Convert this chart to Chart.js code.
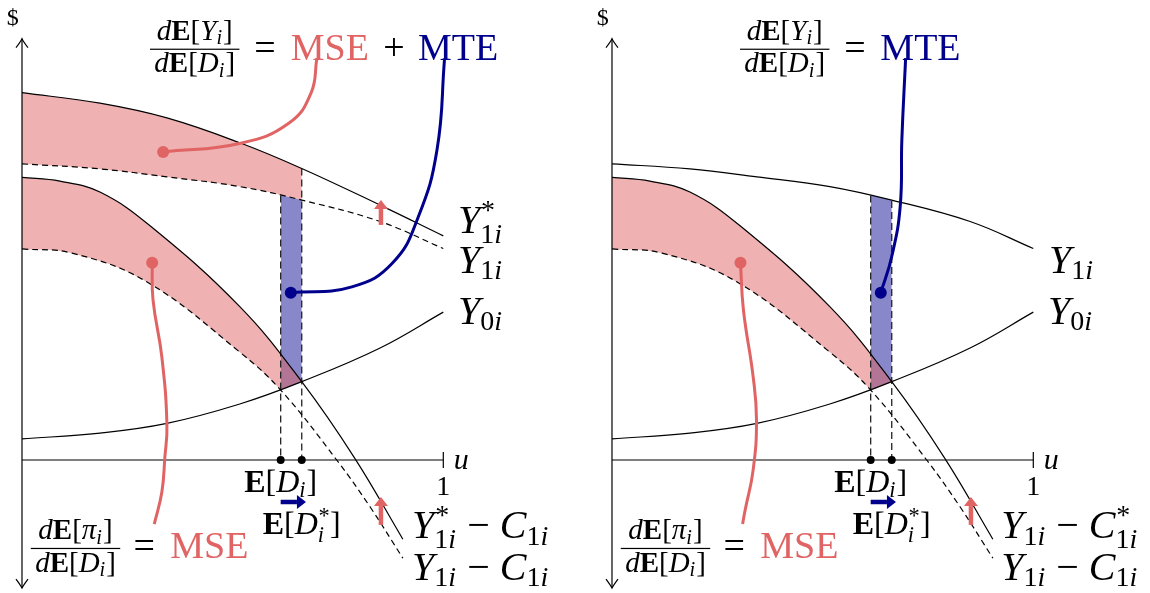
<!DOCTYPE html>
<html>
<head>
<meta charset="utf-8">
<script src="https://cdn.jsdelivr.net/npm/chart.js@4.4.1/dist/chart.umd.min.js"></script>
<style>
  html, body { margin: 0; padding: 0; background: #fff; }
  #wrap { position: relative; width: 1150px; height: 593px; overflow: hidden; }
  .panel { position: absolute; top: 0; height: 593px; }
</style>
</head>
<body>
<div id="wrap">
  <div class="panel" style="left:0;width:575px"><canvas id="left"></canvas></div>
  <div class="panel" style="left:590px;width:560px"><canvas id="right"></canvas></div>
</div>
<script>
// ---- values (u on the x axis, $ on the y axis) ----
const uGrid = [0, 0.185, 0.344, 0.517, 0.664, 0.85, 1.0];
const y1Star = [0.872, 0.847, 0.812, 0.753, 0.692, 0.605, 0.532];
const y1 = [0.703, 0.691, 0.672, 0.649, 0.617, 0.566, 0.502];
const y0 = [0.050, 0.064, 0.087, 0.133, 0.186, 0.266, 0.351];

const netStarU = [0, 0.09, 0.185, 0.304, 0.517, 0.664, 0.790, 0.904];
const netStar = [0.671, 0.662, 0.636, 0.556, 0.364, 0.186, 0.004, -0.188];
const netU = [0, 0.119, 0.296, 0.517, 0.614, 0.747, 0.826, 0.904];
const net = [0.501, 0.491, 0.423, 0.256, 0.166, 0.0, -0.111, -0.233];

const eD = 0.614;
const eDStar = 0.664;
const dropTopsLeft = [0.628, 0.692];
const dropTopsRight = [0.628, 0.615];

// callout curves (start point carries the dot)
const mseTopU = [0.335, 0.519, 0.634, 0.686, 0.700];
const mseTopV = [0.731, 0.752, 0.800, 0.871, 0.954];
const mteLeftU = [0.638, 0.783, 0.880, 0.941, 0.985, 1.003];
const mteLeftV = [0.397, 0.411, 0.468, 0.578, 0.736, 0.953];
const mseLowLeftU = [0.309, 0.311, 0.332, 0.344, 0.339, 0.332, 0.314];
const mseLowLeftV = [0.468, 0.380, 0.244, 0.084, 0.005, -0.076, -0.152];
const mteRightU = [0.638, 0.664, 0.684, 0.688, 0.697];
const mteRightV = [0.397, 0.483, 0.601, 0.760, 0.954];
const mseLowRightU = [0.305, 0.312, 0.335, 0.343, 0.335, 0.316, 0.310];
const mseLowRightV = [0.468, 0.356, 0.198, 0.095, -0.024, -0.119, -0.152];

const RED = '#e06464';
const NAVY = '#00008c';
const PINK = 'rgba(224, 100, 100, 0.5)';
const BLUE_FILL = 'rgba(0, 0, 140, 0.47)';
const FONT = "'Liberation Serif', 'DejaVu Serif', serif";

const X_MIN = -0.0522, Y_MIN = -0.3157, Y_MAX = 1.0919;

function series(us, vs) {
  return us.map((u, i) => ({ x: u, y: vs[i] }));
}

function curve(key, us, vs, extra) {
  return Object.assign({
    key, data: series(us, vs), showLine: true, borderColor: '#000', borderWidth: 1.2,
    pointRadius: 0, tension: 0.4, fill: false
  }, extra);
}

function callout(key, us, vs, color) {
  return {
    key, data: series(us, vs), showLine: true, borderColor: color, borderWidth: 3,
    tension: 0.45, pointRadius: us.map((_, i) => (i === 0 ? 6 : 0)),
    pointBackgroundColor: color, pointBorderWidth: 0, fill: false
  };
}

function segment(key, pts, extra) {
  return Object.assign({
    key, data: pts.map(p => ({ x: p[0], y: p[1] })), showLine: true, borderColor: '#000',
    borderWidth: 1.2, pointRadius: 0, tension: 0, fill: false
  }, extra);
}

// ---- math-ish text ----
function fontFor(f, size) {
  return (f === 'i' ? 'italic ' : '') + (f === 'b' ? 'bold ' : '') + size + 'px ' + FONT;
}

// subscripts: digits and symbols upright, letters italic
function scriptParts(str) {
  return str.split('').map(ch => ({ ch, f: /[a-z]/i.test(ch) ? 'i' : 'r' }));
}

function scriptWidth(ctx, str, s) {
  return scriptParts(str).reduce((w, p) => {
    ctx.font = fontFor(p.f, s);
    return w + ctx.measureText(p.ch).width;
  }, 0);
}

function drawScript(ctx, str, x, y, s) {
  scriptParts(str).forEach(p => {
    ctx.font = fontFor(p.f, s);
    ctx.fillText(p.ch, x, y);
    x += ctx.measureText(p.ch).width;
  });
}

function pieceWidth(ctx, r, size) {
  if (r.sub || r.sup) {
    const s = size * 0.7;
    return Math.max(r.sub ? scriptWidth(ctx, r.sub, s) : 0, r.sup ? scriptWidth(ctx, r.sup, s) : 0) + 1;
  }
  ctx.font = fontFor(r.f, size);
  return ctx.measureText(r.t).width;
}

function runsWidth(ctx, runs, size) {
  return runs.reduce((a, r) => a + pieceWidth(ctx, r, size), 0);
}

function drawRuns(ctx, runs, x, y, size, align, color) {
  const w = runsWidth(ctx, runs, size);
  let cx = align === 'center' ? x - w / 2 : x;
  ctx.fillStyle = color || '#000';
  ctx.textAlign = 'left';
  ctx.textBaseline = 'alphabetic';
  runs.forEach(r => {
    const pw = pieceWidth(ctx, r, size);
    if (r.sub || r.sup) {
      const s = size * 0.7;
      if (r.sub) drawScript(ctx, r.sub, cx, y + size * (r.sup ? 0.24 : 0.16), s);
      if (r.sup) drawScript(ctx, r.sup, cx + 0.02 * size, y - size * 0.36, s);
    } else {
      ctx.font = fontFor(r.f, size);
      ctx.fillText(r.t, cx, y);
    }
    cx += pw;
  });
}

function drawFrac(ctx, item, px, py) {
  const w = Math.max(runsWidth(ctx, item.num, item.size), runsWidth(ctx, item.den, item.size)) + item.size * 0.3;
  ctx.fillStyle = '#000';
  ctx.fillRect(px - w / 2, py - 0.6, w, 1.2);
  drawRuns(ctx, item.num, px, py - item.size * 0.33, item.size, 'center');
  drawRuns(ctx, item.den, px, py + item.size * 0.8, item.size, 'center');
}

const dE = (inner, sub) => [{ t: 'd', f: 'i' }, { t: 'E', f: 'b' }, { t: '[' }, { t: inner, f: 'i' }, { sub }, { t: ']' }];
const Y1 = (star) => [{ t: 'Y', f: 'i' }, star ? { sub: '1i', sup: '*' } : { sub: '1i' }];
const C1 = (star) => [{ t: 'C', f: 'i' }, star ? { sub: '1i', sup: '*' } : { sub: '1i' }];
const MINUS = { t: ' \u2212 ' };

function commonLabels() {
  return [
    { x: -0.022, y: 1.032, size: 24, align: 'center', runs: [{ t: '$' }] },
    { x: 1.035, y: 0.323, size: 40, runs: [{ t: 'Y', f: 'i' }, { sub: '0i' }] },
    { x: 1.025, y: -0.021, size: 30, runs: [{ t: 'u', f: 'i' }] },
    { x: 1.0, y: -0.083, size: 28, align: 'center', runs: [{ t: '1' }] },
    { x: eD, y: -0.076, size: 32, align: 'center', runs: [{ t: 'E', f: 'b' }, { t: '[' }, { t: 'D', f: 'i' }, { sub: 'i' }, { t: ']' }] },
    { x: eDStar, y: -0.176, size: 32, align: 'center', runs: [{ t: 'E', f: 'b' }, { t: '[' }, { t: 'D', f: 'i' }, { sub: 'i', sup: '*' }, { t: ']' }] },
    { frac: true, x: 0.127, y: -0.210, size: 29, num: dE('\u03c0', 'i'), den: dE('D', 'i') },
    { x: 0.290, y: -0.233, size: 38, align: 'center', runs: [{ t: '=' }] },
    { x: 0.352, y: -0.233, size: 38, color: RED, runs: [{ t: 'MSE' }] },
    { frac: true, x: 0.410, y: 0.975, size: 29, num: dE('Y', 'i'), den: dE('D', 'i') },
    { x: 0.577, y: 0.949, size: 38, align: 'center', runs: [{ t: '=' }] }
  ];
}

function buildPanel(id, spec) {
  const datasets = spec.datasets;
  const idx = key => datasets.findIndex(d => d.key === key);

  function clipSide(chart, key, edge) {
    const ctx = chart.ctx;
    const line = chart.getDatasetMeta(idx(key)).dataset;
    line.updateControlPoints(chart.chartArea, 'x');
    const pts = line.points;
    ctx.beginPath();
    line.path(ctx);
    ctx.lineTo(pts[pts.length - 1].x, edge);
    ctx.lineTo(pts[0].x, edge);
    ctx.closePath();
    ctx.clip();
  }

  function arrow(ctx, x0, y0, x1, y1, color) {
    const ang = Math.atan2(y1 - y0, x1 - x0);
    const head = 9, half = 7;
    const bx = x1 - Math.cos(ang) * head, by = y1 - Math.sin(ang) * head;
    ctx.strokeStyle = color;
    ctx.fillStyle = color;
    ctx.lineWidth = 4.5;
    ctx.lineCap = 'butt';
    ctx.beginPath(); ctx.moveTo(x0, y0); ctx.lineTo(bx, by); ctx.stroke();
    ctx.beginPath();
    ctx.moveTo(x1, y1);
    ctx.lineTo(bx - Math.sin(ang) * half, by + Math.cos(ang) * half);
    ctx.lineTo(bx + Math.sin(ang) * half, by - Math.cos(ang) * half);
    ctx.closePath();
    ctx.fill();
  }

  const plugin = {
    id: 'sketch_' + id,
    beforeDatasetsDraw(chart) {
      const ctx = chart.ctx, area = chart.chartArea, xs = chart.scales.x;
      spec.bands.forEach(b => {
        const l = xs.getPixelForValue(b.from), r = xs.getPixelForValue(b.to);
        ctx.save();
        ctx.beginPath();
        ctx.rect(l, area.top, r - l, area.bottom - area.top);
        ctx.clip();
        clipSide(chart, b.under, area.bottom);
        b.over.forEach(k => clipSide(chart, k, area.top));
        ctx.fillStyle = b.color;
        ctx.fillRect(l, area.top, r - l, area.bottom - area.top);
        ctx.restore();
      });
    },
    afterDatasetsDraw(chart) {
      const ctx = chart.ctx, xs = chart.scales.x, ys = chart.scales.y;
      const X = v => xs.getPixelForValue(v), Y = v => ys.getPixelForValue(v);
      ctx.save();
      // open arrow heads on the $ axis
      ctx.strokeStyle = '#000';
      ctx.lineWidth = 1.2;
      [[1.0, 1], [-0.304, -1]].forEach(([v, dir]) => {
        const tx = X(0), ty = Y(v);
        ctx.beginPath();
        ctx.moveTo(tx - 6, ty + dir * 9);
        ctx.quadraticCurveTo(tx - 1.5, ty + dir * 3, tx, ty);
        ctx.quadraticCurveTo(tx + 1.5, ty + dir * 3, tx + 6, ty + dir * 9);
        ctx.stroke();
      });
      spec.arrows.forEach(a => arrow(ctx, X(a.from[0]), Y(a.from[1]), X(a.to[0]), Y(a.to[1]), a.color));
      spec.labels.forEach(t => {
        if (t.frac) drawFrac(ctx, t, X(t.x), Y(t.y));
        else drawRuns(ctx, t.runs, X(t.x), Y(t.y), t.size, t.align, t.color);
      });
      ctx.restore();
    }
  };

  return new Chart(document.getElementById(id), {
    type: 'scatter',
    data: { datasets },
    options: {
      responsive: true,
      maintainAspectRatio: false,
      animation: false,
      events: [],
      layout: { padding: 0, autoPadding: false },
      plugins: { legend: { display: false }, tooltip: { enabled: false } },
      scales: {
        x: { type: 'linear', display: false, min: X_MIN, max: spec.xMax },
        y: { type: 'linear', display: false, min: Y_MIN, max: Y_MAX }
      }
    },
    plugins: [plugin]
  });
}

const dash = { borderDash: [6, 4] };
const drop = { borderColor: '#222', borderWidth: 1.3, borderDash: [7, 4] };
const axes = () => [
  segment('xAxis', [[0, 0], [1.0, 0]]),
  segment('yAxis', [[0, -0.304], [0, 1.0]]),
  segment('tick', [[1.0, -0.019], [1.0, 0.019]])
];
const marks = () => ({
  key: 'marks', data: [{ x: eD, y: 0 }, { x: eDStar, y: 0 }], showLine: false,
  pointRadius: 4, pointBackgroundColor: '#000', pointBorderWidth: 0
});
const lowArrows = [
  { from: [0.852, -0.154], to: [0.852, -0.088], color: RED },
  { from: [eD, -0.0997], to: [0.674, -0.0997], color: NAVY }
];

// left panel: Y*_1i shifted curves
buildPanel('left', {
  xMax: 1.3126,
  datasets: [
    callout('mseTop', mseTopU, mseTopV, RED),
    callout('mseLow', mseLowLeftU, mseLowLeftV, RED),
    callout('mte', mteLeftU, mteLeftV, NAVY),
    marks(),
    curve('y1Star', uGrid, y1Star),
    curve('y1', uGrid, y1, dash),
    curve('y0', uGrid, y0),
    curve('netStar', netStarU, netStar),
    curve('net', netU, net, dash),
    segment('dropE', [[eD, dropTopsLeft[0]], [eD, 0]], drop),
    segment('dropEStar', [[eDStar, dropTopsLeft[1]], [eDStar, 0]], drop),
    ...axes()
  ],
  bands: [
    { color: BLUE_FILL, from: eD, to: eDStar, under: 'y1', over: ['y0'] },
    { color: PINK, from: 0, to: eDStar, under: 'y1Star', over: ['y1'] },
    { color: PINK, from: 0, to: 0.72, under: 'netStar', over: ['net', 'y0'] }
  ],
  arrows: [{ from: [0.852, 0.558], to: [0.852, 0.617], color: RED }, ...lowArrows],
  labels: [
    ...commonLabels(),
    { x: 0.638, y: 0.949, size: 38, color: RED, runs: [{ t: 'MSE' }] },
    { x: 0.883, y: 0.949, size: 38, align: 'center', runs: [{ t: '+' }] },
    { x: 0.940, y: 0.949, size: 38, color: NAVY, runs: [{ t: 'MTE' }] },
    { x: 1.035, y: 0.539, size: 40, runs: Y1(true) },
    { x: 1.035, y: 0.444, size: 40, runs: Y1(false) },
    { x: 0.926, y: -0.186, size: 40, runs: [...Y1(true), MINUS, ...C1(false)] },
    { x: 0.926, y: -0.285, size: 40, runs: [...Y1(false), MINUS, ...C1(false)] }
  ]
});

// right panel: C*_1i shifted curves
buildPanel('right', {
  xMax: 1.277,
  datasets: [
    callout('mseLow', mseLowRightU, mseLowRightV, RED),
    callout('mte', mteRightU, mteRightV, NAVY),
    marks(),
    curve('y1', uGrid, y1),
    curve('y0', uGrid, y0),
    curve('netStar', netStarU, netStar),
    curve('net', netU, net, dash),
    segment('dropE', [[eD, dropTopsRight[0]], [eD, 0]], drop),
    segment('dropEStar', [[eDStar, dropTopsRight[1]], [eDStar, 0]], drop),
    ...axes()
  ],
  bands: [
    { color: BLUE_FILL, from: eD, to: eDStar, under: 'y1', over: ['y0'] },
    { color: PINK, from: 0, to: 0.72, under: 'netStar', over: ['net', 'y0'] }
  ],
  arrows: lowArrows,
  labels: [
    ...commonLabels(),
    { x: 0.637, y: 0.949, size: 38, color: NAVY, runs: [{ t: 'MTE' }] },
    { x: 1.037, y: 0.444, size: 40, runs: Y1(false) },
    { x: 0.924, y: -0.186, size: 40, runs: [...Y1(false), MINUS, ...C1(true)] },
    { x: 0.924, y: -0.285, size: 40, runs: [...Y1(false), MINUS, ...C1(false)] }
  ]
});
</script>
</body>
</html>
